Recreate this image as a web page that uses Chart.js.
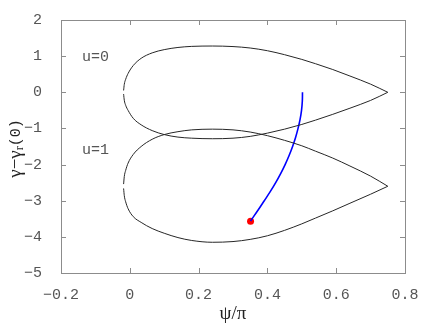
<!DOCTYPE html>
<html>
<head>
<meta charset="utf-8">
<script src="https://cdn.jsdelivr.net/npm/chart.js@4"></script>
<style>
  body { margin: 0; background: #fff; }
  #wrap { width: 436px; height: 327px; }
</style>
</head>
<body>
<div id="wrap"><canvas id="myChart" width="436" height="327"></canvas></div>
<script>
// psi/pi values shared by the two closed curves
const psi = [-0.018, -0.016, -0.012, -0.005, 0.010, 0.033, 0.065, 0.10, 0.14, 0.18, 0.24, 0.30, 0.35, 0.40, 0.45, 0.50, 0.54, 0.59, 0.64, 0.70, 0.75]
// u=0 curve
const u0Top = [0.05, 0.22, 0.36, 0.52, 0.74, 0.94, 1.09, 1.18, 1.24, 1.27, 1.28, 1.265, 1.225, 1.15, 1.04, 0.91, 0.79, 0.63, 0.45, 0.225, 0]
const u0Bottom = [-0.05, -0.22, -0.36, -0.50, -0.72, -0.90, -1.06, -1.17, -1.24, -1.27, -1.285, -1.27, -1.22, -1.13, -1.02, -0.89, -0.77, -0.61, -0.44, -0.225, 0]
// u=1 curve
const u1Top = [-2.54, -2.33, -2.16, -1.96, -1.72, -1.50, -1.30, -1.17, -1.09, -1.04, -1.02, -1.04, -1.10, -1.20, -1.33, -1.48, -1.63, -1.82, -2.04, -2.32, -2.60]
const u1Bottom = [-2.66, -2.86, -3.03, -3.22, -3.44, -3.60, -3.77, -3.90, -4.02, -4.10, -4.15, -4.13, -4.07, -3.97, -3.82, -3.64, -3.48, -3.28, -3.07, -2.82, -2.60]
// blue trajectory
const trajPsi = [0.502, 0.5015, 0.4992, 0.4950, 0.4891, 0.4819, 0.4732, 0.4631, 0.4515, 0.4385, 0.4241, 0.4082, 0.3909, 0.3735, 0.351]
const trajGamma = [0, -0.25, -0.50, -0.75, -1.00, -1.25, -1.50, -1.75, -2.00, -2.25, -2.50, -2.75, -3.00, -3.25, -3.56]
// red start point
const startPsi = [0.351]
const startGamma = [-3.57]

const xTickValues = [-0.2, 0, 0.2, 0.4, 0.6, 0.8]
const xTickLabels = ['\u22120.2', '0', '0.2', '0.4', '0.6', '0.8']
const yTickValues = [-5, -4, -3, -2, -1, 0, 1, 2]
const yTickLabels = ['\u22125', '\u22124', '\u22123', '\u22122', '\u22121', '0', '1', '2']

const curveLabels = [
    { text: 'u=0', x: -0.1, y: 0.98 },
    { text: 'u=1', x: -0.1, y: -1.6 }
]

const toPoints = (xs, ys) => xs.map((x, i) => ({ x: x, y: ys[i] }))

const curveStyle = {
    showLine: true,
    borderColor: '#262626',
    borderWidth: 1,
    pointRadius: 0,
    cubicInterpolationMode: 'monotone',
    fill: false
}

const boxPlugin = {
    id: 'box',
    afterDraw(chart) {
        const c = chart.ctx
        const a = chart.chartArea
        const xs = chart.scales.x
        const ys = chart.scales.y
        c.save()
        c.strokeStyle = '#8c8c8c'
        c.lineWidth = 1
        c.strokeRect(Math.round(a.left) + 0.5, Math.round(a.top) + 0.5,
            Math.round(a.right - a.left), Math.round(a.bottom - a.top))
        c.beginPath()
        xTickValues.forEach(v => {
            const px = Math.round(xs.getPixelForValue(v)) + 0.5
            c.moveTo(px, a.bottom); c.lineTo(px, a.bottom - 5)
            c.moveTo(px, a.top); c.lineTo(px, a.top + 5)
        })
        yTickValues.forEach(v => {
            const py = Math.round(ys.getPixelForValue(v)) + 0.5
            c.moveTo(a.left, py); c.lineTo(a.left + 5, py)
            c.moveTo(a.right, py); c.lineTo(a.right - 5, py)
        })
        c.stroke()

        // curve labels
        c.fillStyle = '#555'
        c.font = '15px "Liberation Mono"'
        c.textAlign = 'center'
        c.textBaseline = 'middle'
        curveLabels.forEach(l => {
            c.fillText(l.text, xs.getPixelForValue(l.x), ys.getPixelForValue(l.y))
        })

        // x title
        c.fillStyle = '#222'
        c.font = '19px "Liberation Serif"'
        c.fillText('\u03c8/\u03c0', (a.left + a.right) / 2, 314)

        // y title with subscript
        c.translate(16, (a.top + a.bottom) / 2 + 2)
        c.rotate(-Math.PI / 2)
        const parts = [
            { t: '\u03b3\u2212\u03b3', f: '19px "Liberation Serif"', dy: 0 },
            { t: 'r', f: '12px "Liberation Serif"', dy: 4 },
            { t: '(0)', f: '15px "Liberation Mono"', dy: 0 }
        ]
        let w = 0
        parts.forEach(p => { c.font = p.f; w += c.measureText(p.t).width })
        let x0 = -w / 2
        c.textAlign = 'left'
        parts.forEach(p => {
            c.font = p.f
            c.fillText(p.t, x0, p.dy)
            x0 += c.measureText(p.t).width
        })
        c.restore()
    }
}

var ctx = document.getElementById('myChart').getContext('2d');
var myChart = new Chart(ctx, {
    type: 'scatter',
    data: {
        datasets: [
            Object.assign({ data: toPoints(psi, u0Top) }, curveStyle),
            Object.assign({ data: toPoints(psi, u0Bottom) }, curveStyle),
            Object.assign({ data: toPoints(psi, u1Top) }, curveStyle),
            Object.assign({ data: toPoints(psi, u1Bottom) }, curveStyle),
            {
                data: toPoints(trajPsi, trajGamma),
                showLine: true,
                borderColor: '#0000ff',
                borderWidth: 1.6,
                pointRadius: 0,
                tension: 0.4
            },
            {
                data: toPoints(startPsi, startGamma),
                pointRadius: 3.5,
                pointBackgroundColor: '#ff0000',
                pointBorderColor: '#ff0000',
                borderWidth: 0
            }
        ]
    },
    options: {
        responsive: false,
        animation: false,
        layout: { padding: { left: 0, top: 20, right: 31, bottom: 0 } },
        plugins: { legend: { display: false }, tooltip: { enabled: false } },
        scales: {
            x: {
                type: 'linear',
                min: -0.2,
                max: 0.8,
                afterBuildTicks: s => { s.ticks = xTickValues.map(v => ({ value: v })) },
                afterFit: s => { s.height = 54 },
                grid: { display: false },
                border: { display: false },
                ticks: {
                    padding: 5,
                    color: '#555',
                    font: { family: 'Liberation Mono', size: 15 },
                    maxRotation: 0,
                    callback: (v, i) => xTickLabels[i]
                }
            },
            y: {
                type: 'linear',
                min: -5,
                max: 2,
                afterBuildTicks: s => { s.ticks = yTickValues.map(v => ({ value: v })) },
                afterFit: s => { s.width = 61 },
                grid: { display: false },
                border: { display: false },
                ticks: {
                    padding: 11,
                    color: '#555',
                    font: { family: 'Liberation Mono', size: 15 },
                    callback: (v, i) => yTickLabels[i]
                }
            }
        }
    },
    plugins: [boxPlugin]
});
</script>
</body>
</html>
